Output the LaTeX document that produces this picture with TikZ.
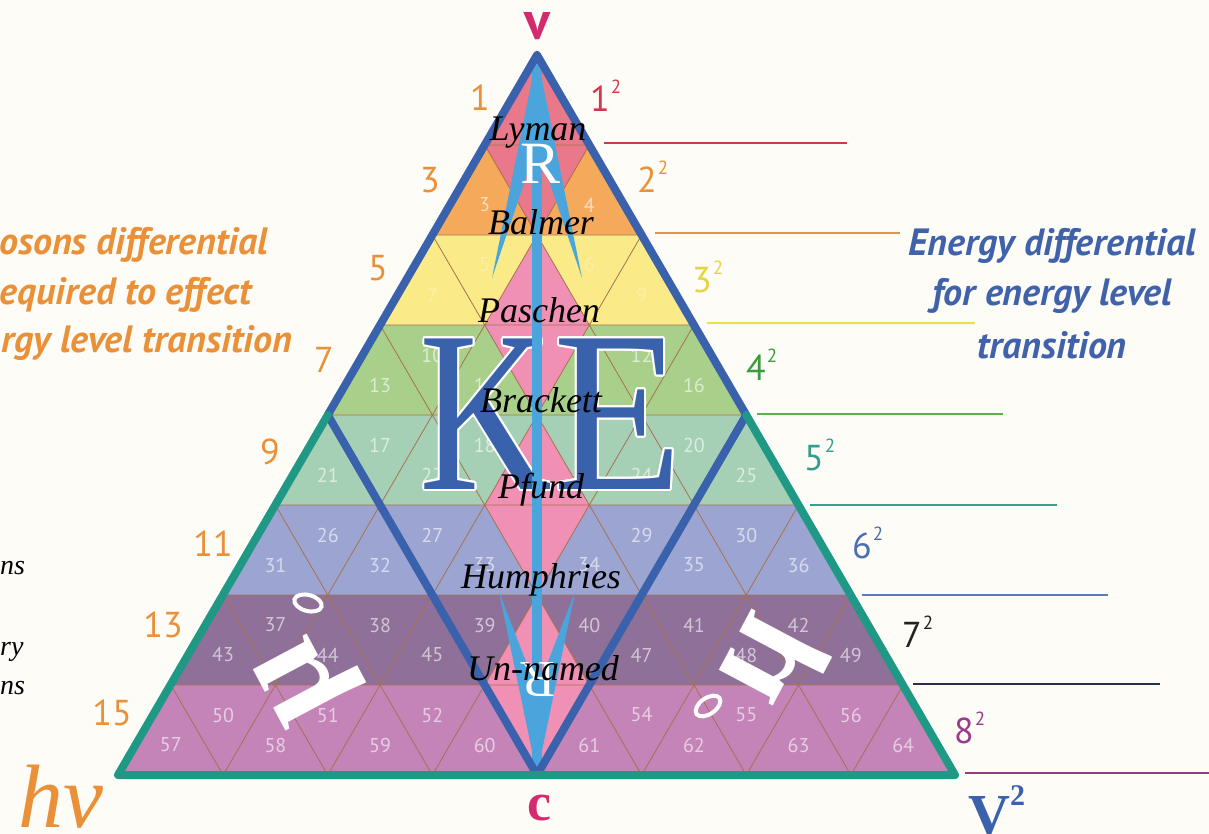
\documentclass[tikz,border=0pt]{standalone}
\usepackage{fontspec}
\setmainfont{Liberation Serif}
\newfontfamily\ptsans{PT Sans}
\usepackage{contour}
\contourlength{2pt}
\definecolor{bgc}{HTML}{FDFCF6}
\definecolor{rI}{HTML}{E8788A}
\definecolor{rII}{HTML}{F5A95A}
\definecolor{rIII}{HTML}{FBEB88}
\definecolor{rIV}{HTML}{A9D08A}
\definecolor{rV}{HTML}{A6D0B6}
\definecolor{rVI}{HTML}{9CA5D2}
\definecolor{rVII}{HTML}{8E7099}
\definecolor{rVIII}{HTML}{C484B8}
\definecolor{pinkc}{HTML}{F090B4}
\definecolor{gridc}{HTML}{A8704E}
\definecolor{blueL}{HTML}{3A62AC}
\definecolor{tealL}{HTML}{1F9985}
\definecolor{lightB}{HTML}{4AA5DC}
\definecolor{orangeT}{HTML}{EA9038}
\definecolor{magT}{HTML}{D42A6E}
\definecolor{blueT}{HTML}{3F62AA}
\definecolor{lnI}{HTML}{CC3B4B}
\definecolor{lnII}{HTML}{E8924A}
\definecolor{lnIII}{HTML}{ECE04A}
\definecolor{lnIV}{HTML}{5DB04A}
\definecolor{lnV}{HTML}{3AA08C}
\definecolor{lnVI}{HTML}{5A7AB8}
\definecolor{lnVII}{HTML}{2A2F4A}
\definecolor{lnVIII}{HTML}{9A3A7A}
\definecolor{sqI}{HTML}{D0384D}
\definecolor{sqIII}{HTML}{E6D43C}
\definecolor{sqIV}{HTML}{3D9B3F}
\definecolor{sqV}{HTML}{2E9E8E}
\definecolor{sqVI}{HTML}{4A6DB3}
\definecolor{sqVII}{HTML}{222222}
\definecolor{sqVIII}{HTML}{9B3A8C}
\def\tw{52.3125}
\newcommand{\sqr}[1]{#1\hspace{1pt}\raisebox{0.5em}{\fontsize{19}{19}\selectfont 2}}
\begin{document}
\begin{tikzpicture}[x=1pt,y=-1pt,
 gridl/.style={draw=gridc, line width=0.8pt, line join=round},
 numl/.style={text=white, text opacity=0.6, font=\ptsans\fontsize{20}{20}\selectfont, inner sep=0},
 series/.style={font=\itshape\fontsize{36}{36}\selectfont, text=black, inner sep=0},
 oddn/.style={text=orangeT, font=\ptsans\fontsize{36}{36}\selectfont, inner sep=0},
 sqn/.style={font=\ptsans\fontsize{36}{36}\selectfont, inner sep=0, anchor=base west},
 lvl/.style={line width=2.5pt},
 blueln/.style={draw=blueL, line width=8pt, line join=round, line cap=round},
 tealln/.style={draw=tealL, line width=8pt, line join=round, line cap=round},
 barb/.style={fill=lightB},
 orit/.style={text=orangeT, font=\ptsans\bfseries\itshape\fontsize{38}{38}\selectfont, inner sep=0},
 blit/.style={text=blueT, font=\ptsans\bfseries\itshape\fontsize{38}{38}\selectfont, inner sep=0},
 glyph/.style={text=white, font=\bfseries\fontsize{140}{140}\selectfont, inner sep=0},
 frag/.style={text=black, font=\itshape\fontsize{28}{28}\selectfont, inner sep=0, anchor=base west}]
\useasboundingbox (0,0) rectangle (1209,834);
\clip (0,0) rectangle (1209,834);
\fill[bgc] (0,0) rectangle (1209,834);
% rows
\foreach \rr/\col in {1/rI,2/rII,3/rIII,4/rIV,5/rV,6/rVI,7/rVII,8/rVIII}{
  \pgfmathsetmacro\yt{55+90*(\rr-1)}
  \pgfmathsetmacro\yb{55+90*\rr}
  \fill[\col] ({537-(\rr-1)*\tw},\yt) -- ({537+(\rr-1)*\tw},\yt) -- ({537+\rr*\tw},\yb) -- ({537-\rr*\tw},\yb) -- cycle;
}
% centre column
\fill[rI] ({537-\tw},145) -- ({537+\tw},145) -- (537,235) -- cycle;
\foreach \rr in {3,5,7}{
  \pgfmathsetmacro\yt{55+90*(\rr-1)}
  \fill[pinkc] (537,\yt) -- ({537+\tw},{\yt+90}) -- ({537-\tw},{\yt+90}) -- cycle;
}
\foreach \rr in {4,6,8}{
  \pgfmathsetmacro\yt{55+90*(\rr-1)}
  \fill[pinkc] ({537-\tw},\yt) -- ({537+\tw},\yt) -- (537,{\yt+90}) -- cycle;
}
% grid
\foreach \rr in {1,...,8}{
  \pgfmathsetmacro\yt{55+90*(\rr-1)}
  \pgfmathsetmacro\yb{55+90*\rr}
  \foreach \j in {1,...,\rr}{
    \pgfmathsetmacro\xl{537-\rr*\tw+2*(\j-1)*\tw}
    \draw[gridl] (\xl,\yb) -- ({\xl+\tw},\yt) -- ({\xl+2*\tw},\yb) -- cycle;
  }
}
% triangle numbers
\foreach \rr in {1,...,8}{
  \pgfmathsetmacro\yt{55+90*(\rr-1)}
  \ifnum\rr=3 \def\op{0.25}\else\def\op{0.6}\fi
  \foreach \j in {1,...,\rr}{
    \pgfmathsetmacro\xc{537-\rr*\tw+(2*\j-1)*\tw}
    \pgfmathtruncatemacro\num{(\rr-1)*(\rr-1)+\rr-1+\j}
    \pgfmathtruncatemacro\isc{abs(\xc-537)<1}
    \ifnum\isc=0 \node[numl, text opacity=\op] (t\num) at (\xc,{\yt+60}) {\num};\fi
  }
  \ifnum\rr>1
  \pgfmathtruncatemacro\rmo{\rr-1}
  \foreach \j in {1,...,\rmo}{
    \pgfmathsetmacro\xc{537-(\rr-1)*\tw+(2*\j-1)*\tw}
    \pgfmathtruncatemacro\num{(\rr-1)*(\rr-1)+\j}
    \pgfmathtruncatemacro\isc{abs(\xc-537)<1}
    \ifnum\isc=0 \node[numl, text opacity=\op] (t\num) at (\xc,{\yt+30}) {\num};\fi
  }
  \fi
}
% KE
\node[text=blueL, inner sep=0, font=\fontsize{230}{230}\selectfont] (K) at (486,415) {\scalebox{0.8}[1]{\contour{white}{K}}};
\node[text=blueL, inner sep=0, font=\fontsize{230}{230}\selectfont] (E) at (618,415) {\scalebox{0.92}[1]{\contour{white}{E}}};
% white glyphs
\node[glyph, rotate=118] (muL) at (310,676) {μ};
\draw[white, line width=4pt, rotate around={-15:(308,603)}] (308,603) ellipse [x radius=14, y radius=8];
\begin{scope}[shift={(776,664)}, rotate=62, xscale=-1, transform shape]
\node[glyph] (muR) at (0,0) {μ};
\end{scope}
\draw[white, line width=4pt, rotate around={35:(708,706)}] (708,706) ellipse [x radius=14, y radius=8];
% light blue double arrow
\coordinate (A) at (537,55);
\coordinate (C) at (537,775);
\draw[lightB, line width=10pt] (537,70) -- (537,765);
\fill[barb] (A) -- (492,278) -- (537,145) -- cycle;
\fill[barb] (A) -- (582,278) -- (537,145) -- cycle;
\fill[barb] (C) -- (499,592) -- (537,690) -- cycle;
\fill[barb] (C) -- (575,592) -- (537,690) -- cycle;
% outlines
\coordinate (L) at (118,775);
\coordinate (Rr) at (955,775);
\coordinate (ML) at ({537-8*\tw/2},415);
\coordinate (MR) at ({537+8*\tw/2},415);
\draw[blueln] (ML) -- (A) -- (MR) -- (C) -- cycle;
\draw[tealln] (ML) -- (L) -- (Rr) -- (MR);
% R letters
\node[text=white, inner sep=0, font=\fontsize{60}{60}\selectfont] (Rtop) at (541,164) {R};
\node[text=white, inner sep=0, rotate=180, font=\fontsize{52}{52}\selectfont] (Rbot) at (538,680) {R};
% series names
\node[series] (lyman) at (538,133) {Lyman};
\node[series] (balmer) at (541,222) {Balmer};
\node[series] (paschen) at (539,310) {Paschen};
\node[series] (brackett) at (541,400) {Brackett};
\node[series] (pfund) at (541,490) {Pfund};
\node[series] (humph) at (541,580) {Humphries};
\node[series] (unnamed) at (543,668) {Un-named};
% odd numbers left
\node[oddn] (o1) at (480,98) {1};
\node[oddn] (o3) at (430,180) {3};
\node[oddn] (o5) at (378,268) {5};
\node[oddn] (o7) at (324,360) {7};
\node[oddn] (o9) at (270,452) {9};
\node[oddn] (o11) at (213,544) {11};
\node[oddn] (o13) at (163,625) {13};
\node[oddn] (o15) at (112,713) {15};
% squares right
\node[sqn, text=sqI] (s1) at (590,112) {\sqr{1}};
\node[sqn, text=orangeT] (s2) at (637,193) {\sqr{2}};
\node[sqn, text=sqIII] (s3) at (692,292) {\sqr{3}};
\node[sqn, text=sqIV] (s4) at (746,380) {\sqr{4}};
\node[sqn, text=sqV] (s5) at (804,470) {\sqr{5}};
\node[sqn, text=sqVI] (s6) at (852,558) {\sqr{6}};
\node[sqn, text=sqVII] (s7) at (902,647) {\sqr{7}};
\node[sqn, text=sqVIII] (s8) at (954,743) {\sqr{8}};
% level lines
\coordinate (a1) at (604,143); \coordinate (b1) at (847,143);
\coordinate (a2) at (655,233); \coordinate (b2) at (900,233);
\coordinate (a3) at (707,323); \coordinate (b3) at (975,323);
\coordinate (a4) at (757,414); \coordinate (b4) at (1003,414);
\coordinate (a5) at (810,505); \coordinate (b5) at (1057,505);
\coordinate (a6) at (862,595); \coordinate (b6) at (1108,595);
\coordinate (a7) at (913,684); \coordinate (b7) at (1160,684);
\coordinate (a8) at (965,773); \coordinate (b8) at (1215,773);
\draw[lvl, lnI] (a1) -- (b1);
\draw[lvl, lnII] (a2) -- (b2);
\draw[lvl, lnIII] (a3) -- (b3);
\draw[lvl, lnIV] (a4) -- (b4);
\draw[lvl, lnV] (a5) -- (b5);
\draw[lvl, lnVI] (a6) -- (b6);
\draw[lvl, lnVII] (a7) -- (b7);
\draw[lvl, lnVIII] (a8) -- (b8);
% vertex labels
\node[text=magT, inner sep=0, anchor=base, font=\ptsans\bfseries\fontsize{54}{54}\selectfont] (vtop) at (537,40) {v};
\node[text=magT, inner sep=0, anchor=base, font=\bfseries\fontsize{54}{54}\selectfont] (cbot) at (539,820) {c};
\node[text=orangeT, inner sep=0, anchor=base west, font=\itshape\fontsize{90}{90}\selectfont] (hv) at (18,827) {hv};
\node[text=blueL, inner sep=0, anchor=base west, font=\bfseries\fontsize{58}{58}\selectfont] (v2) at (968,834) {V\raisebox{0.5em}{\fontsize{30}{30}\selectfont 2}};
% side texts
\node[orit, anchor=east] (bl1) at (268,245) {osons differential};
\node[orit, anchor=east] (bl2) at (252,295) {equired to effect};
\node[orit, anchor=east] (bl3) at (292,343) {rgy level transition};
\node[blit] (en1) at (1052,246) {Energy differential};
\node[blit] (en2) at (1052,296) {for energy level};
\node[blit] (en3) at (1052,345) {transition};
\node[frag] (f1) at (0,574) {ns};
\node[frag] (f2) at (0,655) {ry};
\node[frag] (f3) at (0,694) {ns};
\end{tikzpicture}
\end{document}
